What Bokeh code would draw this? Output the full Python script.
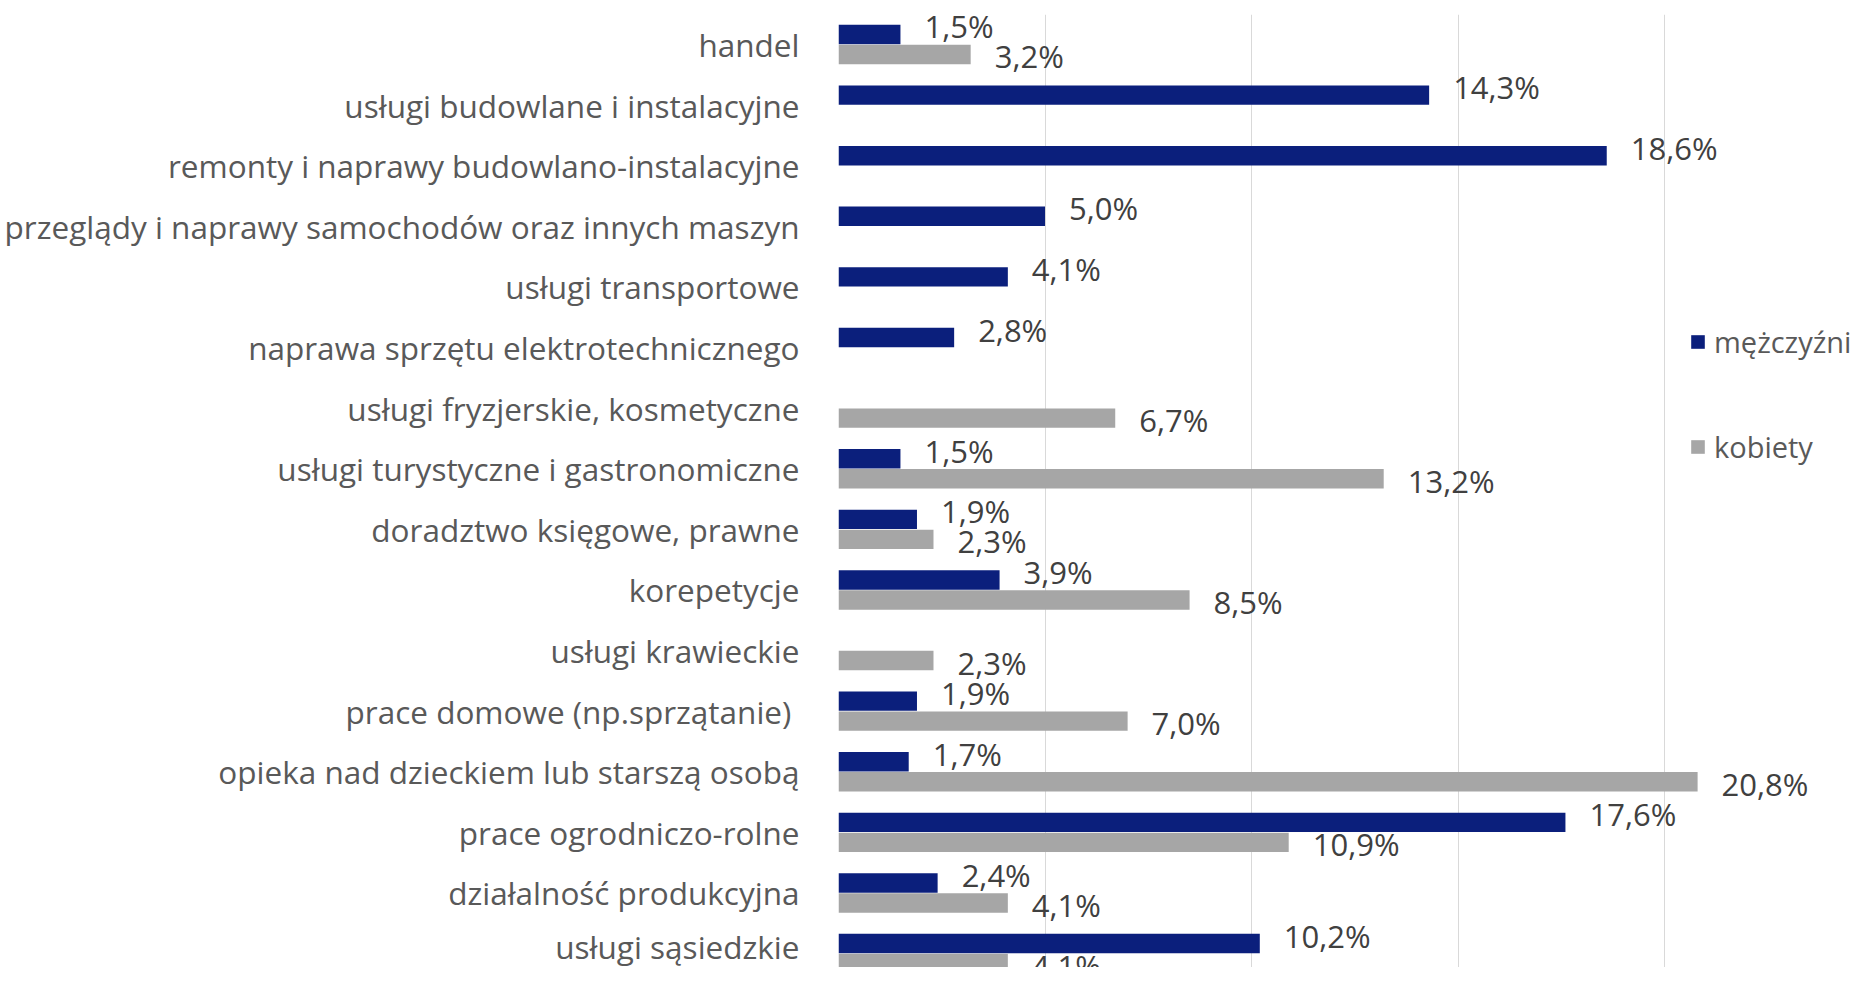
from bokeh.plotting import figure
from bokeh.models import ColumnDataSource, Range1d, FixedTicker, Legend, LegendItem
from bokeh.transform import dodge
from bokeh.core.properties import value
from bokeh.embed import file_html
from bokeh.resources import INLINE
import numpy as np

categories = [
    "handel",
    "usługi budowlane i instalacyjne",
    "remonty i naprawy budowlano-instalacyjne",
    "przeglądy i naprawy samochodów oraz innych maszyn",
    "usługi transportowe",
    "naprawa sprzętu elektrotechnicznego",
    "usługi fryzjerskie, kosmetyczne",
    "usługi turystyczne i gastronomiczne",
    "doradztwo księgowe, prawne",
    "korepetycje",
    "usługi krawieckie",
    "prace domowe  (np.sprzątanie)",
    "opieka nad dzieckiem lub starszą osobą",
    "prace ogrodniczo-rolne",
    "działalność produkcyjna",
    "usługi sąsiedzkie",
]
men = [1.5, 14.3, 18.6, 5.0, 4.1, 2.8, None, 1.5, 1.9, 3.9, None, 1.9, 1.7, 17.6, 2.4, 10.2]
women = [3.2, None, None, None, None, None, 6.7, 13.2, 2.3, 8.5, 2.3, 7.0, 20.8, 10.9, 4.1, 4.1]
series_names = ["mężczyźni", "kobiety"]
grid_ticks = [0, 5, 10, 15, 20]

NAVY = "#0b1f7c"
GREY = "#a6a6a6"
FONT = "Open Sans"


def fmt(v):
    return "" if v is None else f"{v:.1f}".replace(".", ",") + "%"


pos = np.arange(len(categories))
src_m = ColumnDataSource(dict(
    y=[p_ for p_, v in zip(pos, men) if v is not None],
    x=[v for v in men if v is not None],
    lab=[fmt(v) for v in men if v is not None],
))
src_w = ColumnDataSource(dict(
    y=[p_ for p_, v in zip(pos, women) if v is not None],
    x=[v for v in women if v is not None],
    lab=[fmt(v) for v in women if v is not None],
))

p = figure(
    width=1852, height=967,
    output_backend="svg", toolbar_location=None,
    x_range=Range1d(0, 24.55),
    y_range=Range1d(15.23, -0.495),
    min_border_left=838, min_border_right=0, min_border_top=14, min_border_bottom=0,
)
p.outline_line_color = None
p.background_fill_color = "white"
p.border_fill_color = "white"

bar_h = 0.32
rm = p.hbar(y=dodge("y", -0.165, range=p.y_range), right="x", left=0, height=bar_h,
            source=src_m, fill_color=NAVY, line_color=None)
rw = p.hbar(y=dodge("y", 0.165, range=p.y_range), right="x", left=0, height=bar_h,
            source=src_w, fill_color=GREY, line_color=None)

p.text(x="x", y=dodge("y", -0.165, range=p.y_range), text="lab", source=src_m,
       x_offset=24, y_offset=-8, text_font=value(FONT), text_font_size="31px",
       text_color="#404040", text_baseline="middle", text_align="left")
p.text(x="x", y=dodge("y", 0.165, range=p.y_range), text="lab", source=src_w,
       x_offset=24, y_offset=2, text_font=value(FONT), text_font_size="31px",
       text_color="#404040", text_baseline="middle", text_align="left")

# axes
p.xaxis.visible = False
p.xgrid.ticker = FixedTicker(ticks=grid_ticks)
p.xgrid.grid_line_color = "#d9d9d9"
p.xgrid.grid_line_width = 1
p.ygrid.visible = False

yax = p.yaxis[0]
yax.ticker = FixedTicker(ticks=list(pos))
yax.major_label_overrides = {int(i): c for i, c in zip(pos, categories)}
yax.axis_line_color = None
yax.major_tick_line_color = None
yax.minor_tick_line_color = None
yax.major_label_standoff = 33
yax.major_label_text_font = FONT
yax.major_label_text_font_size = "31.5px"
yax.major_label_text_color = "#595959"

legend = Legend(
    items=[LegendItem(label=series_names[0], renderers=[rm]),
           LegendItem(label=series_names[1], renderers=[rw])],
    location=(851, 501),
    orientation="vertical",
    glyph_width=17, glyph_height=17,
    label_height=30, label_standoff=8,
    spacing=66, padding=0, margin=0,
    label_text_font=FONT, label_text_font_size="29px", label_text_color="#595959",
    border_line_color=None, background_fill_alpha=0,
)
p.add_layout(legend)

open("out.html", "w").write(file_html(p, INLINE))
